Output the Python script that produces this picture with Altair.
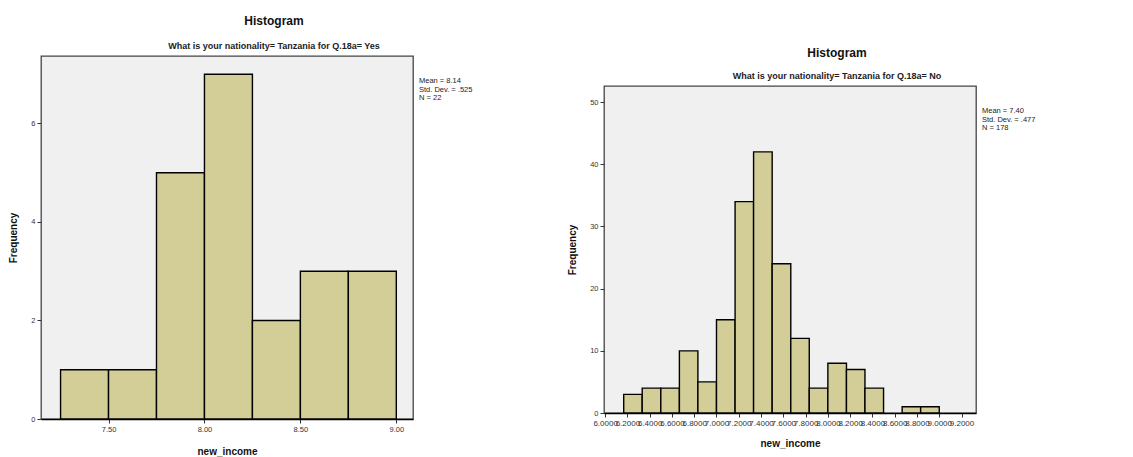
import altair as alt
import pandas as pd

FONT = "Liberation Sans"
BAR_FILL = "#d3ce97"
VIEW_BG = alt.ViewBackground(fill="#f0f0f0", stroke="#444444", strokeWidth=1.3)

# ---- left panel: Q.18a = Yes ----
left_bin_start = [7.25, 7.50, 7.75, 8.00, 8.25, 8.50, 8.75]
left_bin_end = [7.50, 7.75, 8.00, 8.25, 8.50, 8.75, 9.00]
left_counts = [1, 1, 5, 7, 2, 3, 3]
left_xticks = [7.5, 8.0, 8.5, 9.0]
left_yticks = [0, 2, 4, 6]
left_xdomain = [7.148, 9.087]
left_ydomain = [0, 7.37]
left_stats = ["Mean = 8.14", "Std. Dev. = .525", "N = 22"]
left_subtitle = "What is your nationality= Tanzania for Q.18a= Yes"

# ---- right panel: Q.18a = No ----
right_bin_start = [6.167, 6.333, 6.500, 6.667, 6.833, 7.000, 7.167, 7.333, 7.500,
                   7.667, 7.833, 8.000, 8.167, 8.333, 8.500, 8.667, 8.833]
right_bin_end = [6.333, 6.500, 6.667, 6.833, 7.000, 7.167, 7.333, 7.500, 7.667,
                 7.833, 8.000, 8.167, 8.333, 8.500, 8.667, 8.833, 9.000]
right_counts = [3, 4, 4, 10, 5, 15, 34, 42, 24, 12, 4, 8, 7, 4, 0, 1, 1]
right_xticks = [6.0, 6.2, 6.4, 6.6, 6.8, 7.0, 7.2, 7.4, 7.6, 7.8, 8.0, 8.2, 8.4,
                8.6, 8.8, 9.0, 9.2]
right_yticks = [0, 10, 20, 30, 40, 50]
right_xdomain = [5.99, 9.33]
right_ydomain = [0, 52.6]
right_stats = ["Mean = 7.40", "Std. Dev. = .477", "N = 178"]
right_subtitle = "What is your nationality= Tanzania for Q.18a= No"


def histogram(starts, ends, counts, xticks, yticks, xdom, ydom, xfmt, stats,
              w, h, subtitle, xlabel_size, xtitle_pad, sub_pad):
    df = pd.DataFrame({"start": starts, "end": ends, "count": counts})
    bars = (
        alt.Chart(df)
        .transform_filter("datum.count > 0")
        .mark_bar(fill=BAR_FILL, stroke="#000000", strokeWidth=1.4, opacity=1)
        .encode(
            x=alt.X("start:Q",
                    scale=alt.Scale(domain=xdom, nice=False, zero=False),
                    axis=alt.Axis(values=xticks, format=xfmt, title="new_income",
                                  labelFontSize=xlabel_size, labelOverlap=False,
                                  labelFlush=False, domainWidth=1.6,
                                  domainColor="#000000", titlePadding=xtitle_pad)),
            x2="end:Q",
            y=alt.Y("count:Q",
                    scale=alt.Scale(domain=ydom, nice=False),
                    axis=alt.Axis(values=yticks, format="d", title="Frequency",
                                  titlePadding=12, domain=False)),
            y2=alt.datum(0),
        )
    )
    sdf = pd.DataFrame({"txt": ["\n".join(stats)]})
    text = (
        alt.Chart(sdf)
        .mark_text(align="left", baseline="top", font=FONT, fontSize=7.5,
                   lineBreak="\n", lineHeight=8.5, color="#222222")
        .encode(x=alt.value(w + 6), y=alt.value(21), text="txt:N")
    )
    return alt.layer(bars, text).properties(
        width=w, height=h, view=VIEW_BG,
        title=alt.TitleParams(
            text="Histogram", subtitle=subtitle, font=FONT, fontSize=12,
            fontWeight="bold", color="#111111", subtitleFont=FONT,
            subtitleFontSize=9, subtitleFontWeight="bold",
            subtitleColor="#222222", anchor="middle", dx=47, offset=4,
            subtitlePadding=sub_pad),
    )


left = histogram(left_bin_start, left_bin_end, left_counts, left_xticks,
                 left_yticks, left_xdomain, left_ydomain, ".2f", left_stats,
                 372, 363, left_subtitle, 7.5, 14, 14)
right = histogram(right_bin_start, right_bin_end, right_counts, right_xticks,
                  right_yticks, right_xdomain, right_ydomain, ".4f", right_stats,
                  372, 327, right_subtitle, 8, 11, 12)

# invisible spacer that pushes the right panel lower than the left one
spacer = (
    alt.Chart(pd.DataFrame({"a": [0]}))
    .mark_point(opacity=0)
    .encode(x=alt.value(0), y=alt.value(0))
    .properties(width=372, height=30,
                view=alt.ViewBackground(fill="#ffffff", stroke="#ffffff",
                                        strokeWidth=0))
)
right_col = alt.vconcat(spacer, right, spacing=0, bounds="flush")

chart = (
    alt.hconcat(left, right_col, spacing=93)
    .configure(background="#ffffff",
               padding={"top": 6, "left": 0, "right": 0, "bottom": 0})
    .configure_axis(labelFont=FONT, labelFontSize=7.5, labelColor="#333333",
                    tickColor="#333333", tickSize=4, labelPadding=2,
                    titleFont=FONT, titleFontSize=10, titleFontWeight="bold",
                    titleColor="#111111", grid=False)
)

chart.save("out.html", embed_options={"renderer": "svg", "actions": False})
